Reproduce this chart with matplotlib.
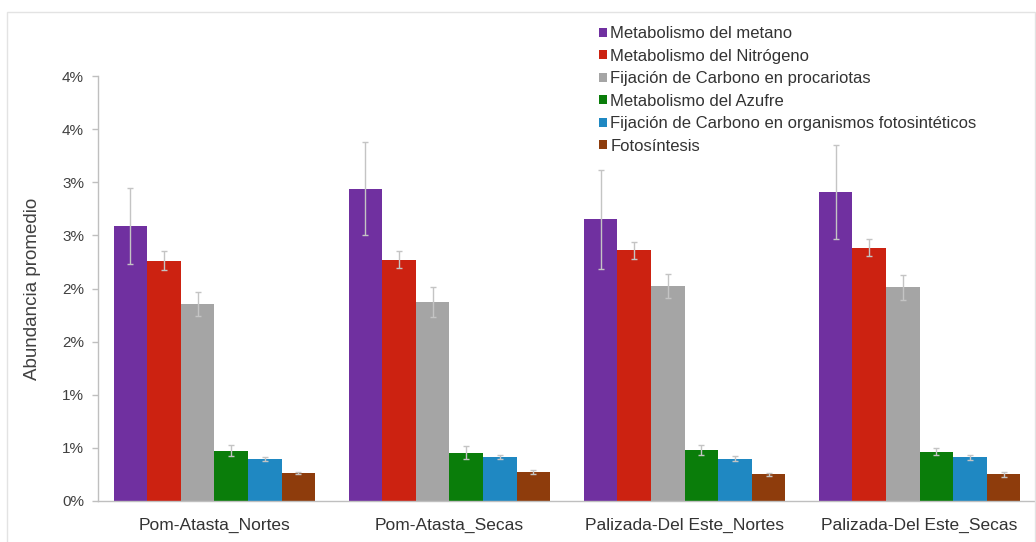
import math
import matplotlib
matplotlib.use("Agg")
import matplotlib.pyplot as plt
from matplotlib.patches import Rectangle
from matplotlib.ticker import FuncFormatter, MultipleLocator
import numpy as np

plt.rcParams['font.family'] = ['Liberation Sans', 'DejaVu Sans']

sites = ["Pom-Atasta_Nortes", "Pom-Atasta_Secas",
         "Palizada-Del Este_Nortes", "Palizada-Del Este_Secas"]

pathways = ["Metabolismo del metano", "Metabolismo del Nitrógeno",
            "Fijación de Carbono en procariotas", "Metabolismo del Azufre",
            "Fijación de Carbono en organismos fotosintéticos", "Fotosíntesis"]

colors = ["#7030A0", "#CC2211", "#A5A5A5", "#0A7D0A", "#1F88C2", "#8E3C0C"]

# mean abundance (%) per pathway, one value per site
metano = [2.59, 2.94, 2.65, 2.91]
nitrogeno = [2.26, 2.27, 2.36, 2.385]
carbono_proc = [1.855, 1.875, 2.025, 2.01]
azufre = [0.475, 0.455, 0.48, 0.465]
carbono_foto = [0.395, 0.415, 0.40, 0.41]
fotosintesis = [0.26, 0.275, 0.25, 0.25]

# standard deviation (%)
metano_sd = [0.36, 0.44, 0.47, 0.44]
nitrogeno_sd = [0.09, 0.08, 0.08, 0.08]
carbono_proc_sd = [0.11, 0.14, 0.11, 0.12]
azufre_sd = [0.05, 0.06, 0.05, 0.03]
carbono_foto_sd = [0.02, 0.02, 0.02, 0.02]
fotosintesis_sd = [0.01, 0.02, 0.01, 0.02]

means = [metano, nitrogeno, carbono_proc, azufre, carbono_foto, fotosintesis]
sds = [metano_sd, nitrogeno_sd, carbono_proc_sd, azufre_sd, carbono_foto_sd,
       fotosintesis_sd]

W, H = 1036, 542
fig = plt.figure(figsize=(W / 100, H / 100), dpi=100)
fig.patches.append(Rectangle((7 / W, -0.05), (1035 - 7) / W, (H - 12) / H + 0.05,
                             transform=fig.transFigure, fill=False,
                             edgecolor="#E3E3E3", linewidth=1))

ax = fig.add_axes([98 / W, 41 / H, 938 / W, 425 / H])

x = np.arange(len(sites))
n = len(pathways)
bw = 1.0 / (n + 1)
for i, (vals, err, c, name) in enumerate(zip(means, sds, colors, pathways)):
    pos = x - 0.5 + bw / 2 + bw * (i + 0.5)
    ax.bar(pos, np.array(vals) / 100, width=bw, color=c, label=name, zorder=2)
    ax.errorbar(pos, np.array(vals) / 100, yerr=np.array(err) / 100, fmt="none",
                ecolor="#C4C4C4", elinewidth=1, capsize=2, capthick=1, zorder=3)

ax.set_xlim(-0.5 + 0.005, 3.5 - 0.005)
ax.set_ylim(0, 0.04)
ax.yaxis.set_major_locator(MultipleLocator(0.005))
ax.yaxis.set_major_formatter(FuncFormatter(
    lambda v, p: f"{math.floor(v * 100 + 0.5 + 1e-9):d}%"))
ax.set_xticks(x)
ax.set_xticklabels(sites, fontsize=12.5, color="#333333")
ax.tick_params(axis="x", length=0, pad=12)
ax.tick_params(axis="y", length=4, width=1, color="#BFBFBF", labelsize=11,
               labelcolor="#404040", pad=6)

for s in ["top", "right"]:
    ax.spines[s].set_visible(False)
for s in ["left", "bottom"]:
    ax.spines[s].set_color("#BFBFBF")
    ax.spines[s].set_linewidth(1)

ax.set_ylabel("Abundancia promedio", fontsize=13.5, color="#404040", labelpad=15)

fig.legend(loc="upper left", bbox_to_anchor=(591 / W, 1 - 18 / H), frameon=False,
           fontsize=12, handlelength=0.45, handleheight=0.45, handletextpad=0.2,
           labelspacing=0.45, borderpad=0, labelcolor="#333333")

fig.savefig("out.png", dpi=100, facecolor="white")
